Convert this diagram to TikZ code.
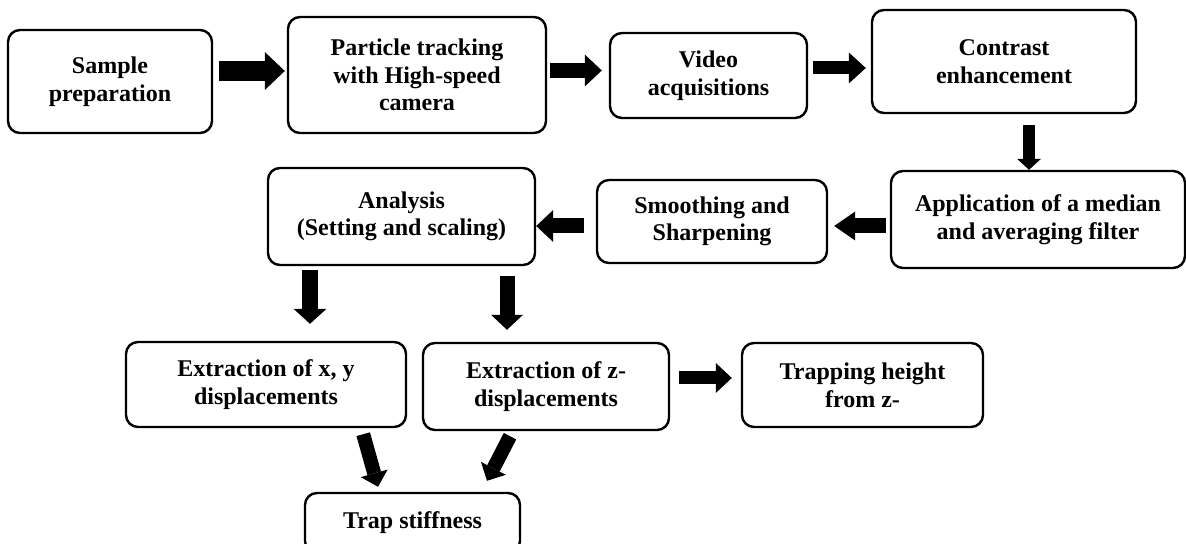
\documentclass[tikz,border=0pt]{standalone}
\usepackage{fontspec}
\setmainfont{Liberation Serif}
\usetikzlibrary{positioning,arrows.meta}

\tikzset{
  stepbox/.style={draw,line width=1.2pt,rounded corners=6pt,align=center,inner sep=2pt,
    font=\fontsize{12}{13.8}\selectfont\bfseries},
  blockarrow/.style={line width=7.5pt,-{Triangle[width=16pt,length=8.5pt,line width=0pt]}},
}

\begin{document}
\begin{tikzpicture}[x=0.5pt,y=-0.5pt]
  \useasboundingbox (0,0) rectangle (1186,544);
  % top row
  \node[stepbox,minimum width=102pt,minimum height=51.5pt] (prep) at (110,81.5) {Sample\\preparation};
  \node[stepbox,minimum width=129pt,minimum height=58pt] (track) at (417,75) {Particle tracking\\with High-speed\\camera};
  \node[stepbox,minimum width=98.5pt,minimum height=42.5pt] (video) at (708.5,75.5) {Video\\acquisitions};
  \node[stepbox,minimum width=132pt,minimum height=51.5pt] (contrast) at (1004,61.5) {Contrast\\enhancement};
  % second row
  \node[stepbox,minimum width=147pt,minimum height=48.5pt] (filter) at (1038,219.5) {Application of a median\\and averaging filter};
  \node[stepbox,minimum width=115pt,minimum height=41.5pt] (smooth) at (712,221.5) {Smoothing and\\Sharpening};
  \node[stepbox,minimum width=133.5pt,minimum height=48.5pt] (analysis) at (401.5,216.5) {Analysis\\(Setting and scaling)};
  % third row
  \node[stepbox,minimum width=140pt,minimum height=42.5pt] (xy) at (266,384.5) {Extraction of x, y\\displacements};
  \node[stepbox,minimum width=123pt,minimum height=43.5pt] (zdisp) at (546,386.5) {Extraction of z-\\displacements};
  \node[stepbox,minimum width=120.5pt,minimum height=42pt] (height) at (862.5,385) {Trapping height\\from z-};
  \node[stepbox,minimum width=107.5pt,minimum height=30pt] (stiff) at (412.5,523) {Trap stiffness};

  \draw[blockarrow,line width=10pt,-{Triangle[width=19pt,length=10pt,line width=0pt]},shorten <=3pt,shorten >=1pt]
    ([yshift=5.25pt]prep.east) -- ([yshift=5.25pt]prep.east -| track.west);
  \draw[blockarrow,shorten <=1.5pt,shorten >=3.5pt] ([yshift=2.25pt]track.east) -- ([yshift=2.25pt]track.east -| video.west);
  \draw[blockarrow,line width=6.5pt,-{Triangle[width=15.5pt,length=8.5pt,line width=0pt]},shorten <=2.5pt,shorten >=2.5pt]
    ([yshift=3.75pt]video.east) -- ([yshift=3.75pt]video.east -| contrast.west);
  \draw[blockarrow,line width=6pt,-{Triangle[width=12pt,length=5.5pt,line width=0pt]},shorten <=5.5pt]
    ([xshift=12.5pt]contrast.south) -- ([xshift=12.5pt]contrast.south |- filter.north);
  \draw[blockarrow,-{Triangle[width=14.5pt,length=10.5pt,line width=0pt]},shorten <=2pt,shorten >=3pt]
    ([yshift=-3.25pt]filter.west) -- ([yshift=-3.25pt]filter.west -| smooth.east);
  \draw[blockarrow,shorten <=6pt] ([yshift=-2.25pt]smooth.west) -- ([yshift=-2.25pt]smooth.west -| analysis.east);
  \draw[blockarrow,line width=8pt,-{Triangle[width=16.5pt,length=7.5pt,line width=0pt]},shorten <=2pt,shorten >=8.5pt]
    ([xshift=-45.75pt]analysis.south) -- ([xshift=-45.75pt]analysis.south |- xy.north);
  \draw[blockarrow,-{Triangle[width=16pt,length=7.5pt,line width=0pt]},shorten <=5pt,shorten >=6pt]
    ([xshift=52.75pt]analysis.south) -- ([xshift=52.75pt]analysis.south |- zdisp.north);
  \draw[blockarrow,line width=6.5pt,-{Triangle[width=15pt,length=8pt,line width=0pt]},shorten <=4.5pt,shorten >=4.5pt]
    ([yshift=4.25pt]zdisp.east) -- ([yshift=4.25pt]zdisp.east -| height.west);
  % into trap stiffness
  \draw[blockarrow,line width=7pt,-{Triangle[width=14pt,length=7pt,line width=0pt]}]
    ([shift={(-44,6)}]xy.south east) -- ([shift={(-34.5,-5)}]stiff.north);
  \draw[blockarrow,line width=7pt,-{Triangle[width=14pt,length=7pt,line width=0pt]}]
    ([shift={(-36,5)}]zdisp.south) -- ([shift={(74.5,-11)}]stiff.north);
\end{tikzpicture}
\end{document}
